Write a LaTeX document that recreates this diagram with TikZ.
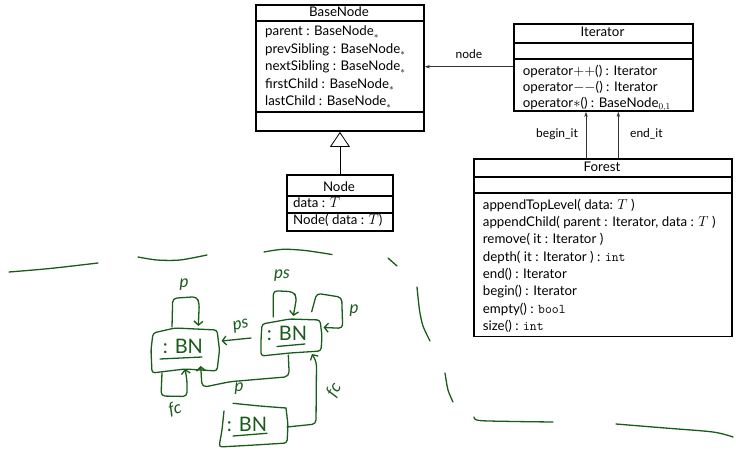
\documentclass[tikz,border=0pt]{standalone}
\usepackage{fontspec}
\setmainfont{Lato}
\usetikzlibrary{arrows.meta}
\definecolor{inkgreen}{RGB}{24,92,28}
\tikzset{
  umlbox/.style={draw, line width=1.9pt, inner sep=0pt, anchor=north west},
  compsep/.style={line width=1.9pt},
  row/.style={anchor=base west, inner sep=0pt, font=\fontsize{13.3}{16}\selectfont},
  boxtitle/.style={anchor=base, inner sep=0pt, font=\fontsize{13.3}{16}\selectfont},
  edgelabel/.style={anchor=base, inner sep=0pt, font=\fontsize{12}{14}\selectfont},
  assoc/.style={-{Stealth[length=5pt,width=3.5pt]}, line width=0.7pt, draw=black!80},
  inherit/.style={line width=0.8pt, -{Triangle[open,length=15pt,width=20pt,fill=white]}},
  ink/.style={draw=inkgreen, line width=1.3pt, line cap=round, line join=round},
  inkarrow/.style={ink, -{Straight Barb[length=4pt,width=9pt]}},
  inkbox/.style={ink, rounded corners=3pt},
  handtext/.style={text=inkgreen, inner sep=0pt, font=\itshape\fontsize{17}{17}\selectfont},
  bntext/.style={text=inkgreen, inner sep=0pt, font=\fontsize{20}{20}\selectfont},
}
\begin{document}
\begin{tikzpicture}[x=1pt,y=-1pt]
\useasboundingbox (0,0) rectangle (736,454);

% ---------------- BaseNode class ----------------
\node[umlbox, minimum width=168pt, minimum height=126pt] (basenode) at (255,4) {};
\draw[compsep] (basenode.west |- 0,20.7) -- (basenode.east |- 0,20.7);
\draw[compsep] (basenode.west |- 0,112) -- (basenode.east |- 0,112);
\node[boxtitle] (basenodeT) at (339,16.7) {BaseNode};
\node[row] (bnA) at (265,36)   {parent : BaseNode$_\ast$};
\node[row] (bnB) at (265,53.5) {prevSibling : BaseNode$_\ast$};
\node[row] (bnC) at (265,71)   {nextSibling : BaseNode$_\ast$};
\node[row] (bnD) at (265,88.5) {firstChild : BaseNode$_\ast$};
\node[row] (bnE) at (265,106)  {lastChild : BaseNode$_\ast$};

% ---------------- Node class ----------------
\node[umlbox, minimum width=106.6pt, minimum height=56pt] (nodebox) at (285.7,174) {};
\draw[compsep] (nodebox.west |- 0,196) -- (nodebox.east |- 0,196);
\draw[compsep] (nodebox.west |- 0,213.3) -- (nodebox.east |- 0,213.3);
\node[boxtitle] (nodeT) at (339,191.7) {Node};
\node[row] (ndA) at (293,207.5) {data : $T$};
\node[row] (ndB) at (293,225)   {Node( data : $T$)};
\draw[inherit] (nodebox.north) -- (nodebox.north |- basenode.south);

% ---------------- Iterator class ----------------
\node[umlbox, minimum width=179pt, minimum height=87.3pt] (iterator) at (513,22.7) {};
\draw[compsep] (iterator.west |- 0,43.3) -- (iterator.east |- 0,43.3);
\draw[compsep] (iterator.west |- 0,59.3) -- (iterator.east |- 0,59.3);
\node[boxtitle] (iteratorT) at (602.5,36.7) {Iterator};
\node[row] (itA) at (522.7,76)    {operator$++$() : Iterator};
\node[row] (itB) at (522.7,92)    {operator$--$() : Iterator};
\node[row] (itC) at (522.7,107.3) {operator$\ast$() : BaseNode$_{0,1}$};

% ---------------- Forest class ----------------
\node[umlbox, minimum width=258pt, minimum height=177.5pt] (forest) at (473,158) {};
\draw[compsep] (forest.west |- 0,177) -- (forest.east |- 0,177);
\draw[compsep] (forest.west |- 0,193) -- (forest.east |- 0,193);
\node[boxtitle] (forestT) at (602,172) {Forest};
\node[row] (fA) at (482.7,210)   {appendTopLevel( data: $T$ )};
\node[row] (fB) at (482.7,227)   {appendChild( parent : Iterator, data : $T$ )};
\node[row] (fC) at (482.7,244)   {remove( it : Iterator )};
\node[row] (fD) at (482.7,261.3) {depth( it : Iterator ) : \texttt{int}};
\node[row] (fE) at (482.7,278.5) {end() : Iterator};
\node[row] (fF) at (482.7,295.7) {begin() : Iterator};
\node[row] (fG) at (482.7,313)   {empty() : \texttt{bool}};
\node[row] (fH) at (482.7,330.3) {size() : \texttt{int}};

% ---------------- associations ----------------
\coordinate (nodeRow) at (0,66.7);
\draw[assoc] (iterator.west |- nodeRow) -- (basenode.east |- nodeRow);
\node[edgelabel] (nodeL) at (469,58.3) {node};
\coordinate (beginX) at (586,0);
\coordinate (endX) at (618.3,0);
\draw[assoc] (beginX |- forest.north) -- (beginX |- iterator.south);
\draw[assoc] (endX |- forest.north) -- (endX |- iterator.south);
\node[edgelabel, anchor=base east] (beginL) at (578,138) {begin\_it};
\node[edgelabel, anchor=base west] (endL) at (630,138) {end\_it};

% ---------------- hand-drawn sketch ----------------
% separator strokes
\draw[ink] plot[smooth] coordinates {(9,272) (50,268.5) (98,263)};
\draw[ink] plot[smooth] coordinates {(138,257) (157,260) (180,260) (207,255)};
\draw[ink] plot[smooth] coordinates {(264,252) (283,249.3) (305,250.5) (332,254.5)};
\draw[ink] (388,258) -- (397,266);
\draw[ink] plot[smooth] coordinates {(417,287) (419.5,310) (423,326) (430,341)};
\draw[ink] plot[smooth] coordinates {(445,373) (448,390) (453,402)};
\draw[ink] plot[smooth] coordinates {(474,417) (479,420.5) (515,421.5) (553,422)};
\draw[ink] plot[smooth] coordinates {(616,424) (665,428) (713,432) (733,437)};

% object boxes
\draw[inkbox] (153,333) -- (175,328) -- (217,330) -- (219.5,350) -- (217,371)
  -- (185,369) -- (152,373) -- (151,350) -- cycle;
\node[bntext] (bn1) at (183,346) {: BN};
\draw[ink] (160,359) -- (202,357);

\draw[inkbox] (262,324) -- (290,319) -- (320,320) -- (322,336) -- (321,351)
  -- (290,353) -- (261,356) -- (261,340) -- cycle;
\node[bntext] (bn2) at (287,333) {: BN};
\draw[ink] (277,346.5) -- (305,344);

\draw[ink] plot[smooth] coordinates {(233,403.3) (260,406) (286,408)};
\draw[inkbox] (286,408) -- (288,425) -- (287,443) -- (255,445) -- (219,447)
  -- (222,430) -- (224,411);
\node[bntext] (bn3) at (247,424) {: BN};
\draw[ink] (233,436) -- (267,433.3);

% links between the objects
\draw[inkarrow, rounded corners=4pt] (172,327) -- (172.7,298.3) -- (196.7,296.7)
  -- (199.3,303.3) -- (198.3,326);
\node[handtext] (p1) at (184,285) {p};

\draw[inkarrow, rounded corners=4pt] (162,373) -- (161,396) -- (187,396.5)
  -- (187,380) -- (185,369);
\node[handtext, rotate=15] (fc1) at (175,409) {fc};

\draw[inkarrow, rounded corners=5pt] (288.3,355) -- (289.3,376.7) -- (270,378.3)
  -- (230,381.7) -- (202,387.5) -- (200.7,366);
\node[handtext] (p3) at (239,389) {p};

\draw[inkarrow] (251,338) -- (221.5,341);
\node[handtext, rotate=12] (ps1) at (241,326) {ps};

\draw[inkarrow, rounded corners=4pt] (273.3,317) -- (273.3,290.7) -- (293,291.7)
  -- (296.7,297) -- (293.3,316);
\node[handtext] (ps2) at (282,276) {ps};

\draw[inkarrow, rounded corners=4pt] (311.7,311.7) -- (316.7,293.3) -- (341.7,297.3)
  -- (342.7,328.3) -- (323.5,327.5);
\node[handtext] (p2) at (354,311) {p};

\draw[inkarrow, rounded corners=4pt] (287,427) -- (316,424) -- (316.5,362) -- (312,354);
\node[handtext, rotate=60] (fc2) at (334,390) {fc};
\end{tikzpicture}
\end{document}
